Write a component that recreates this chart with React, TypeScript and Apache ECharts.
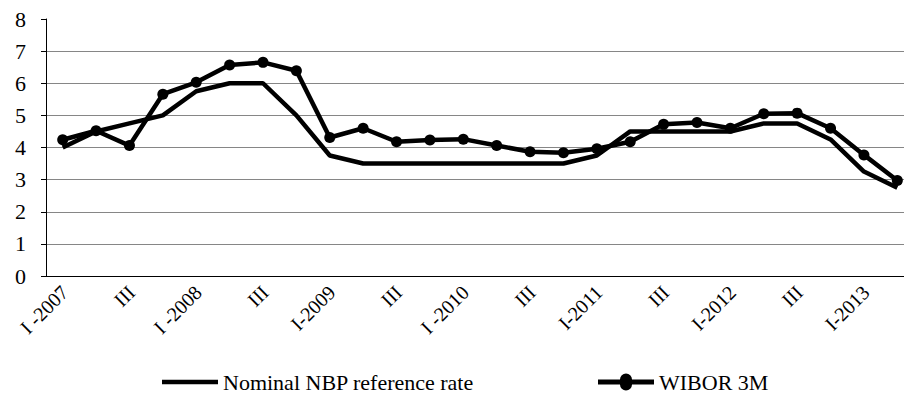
import React, { useEffect, useRef } from "react";
import * as echarts from "echarts";

const quarters = [
  "I-2007", "II-2007", "III-2007", "IV-2007",
  "I-2008", "II-2008", "III-2008", "IV-2008",
  "I-2009", "II-2009", "III-2009", "IV-2009",
  "I-2010", "II-2010", "III-2010", "IV-2010",
  "I-2011", "II-2011", "III-2011", "IV-2011",
  "I-2012", "II-2012", "III-2012", "IV-2012",
  "I-2013", "II-2013",
];

const tickLabels = [
  "I -2007", "", "III", "",
  "I -2008", "", "III", "",
  "I-2009", "", "III", "",
  "I -2010", "", "III", "",
  "I-2011", "", "III", "",
  "I-2012", "", "III", "",
  "I-2013", "",
];

const nominalNBP = [
  4.0, 4.5, 4.75, 5.0,
  5.75, 6.0, 6.0, 5.0,
  3.75, 3.5, 3.5, 3.5,
  3.5, 3.5, 3.5, 3.5,
  3.75, 4.5, 4.5, 4.5,
  4.5, 4.75, 4.75, 4.25,
  3.25, 2.75,
];

const wibor3M = [
  4.24, 4.52, 4.06, 5.66,
  6.03, 6.57, 6.65, 6.39,
  4.31, 4.6, 4.18, 4.23,
  4.26, 4.06, 3.87, 3.84,
  3.96, 4.18, 4.72, 4.78,
  4.6, 5.05, 5.07, 4.6,
  3.77, 2.97,
];

const seriesNames = ["Nominal NBP reference rate", "WIBOR 3M"];

const FONT = "Liberation Serif";

const ICON_LINE = "path://M0,3 L56,3 L56,7.5 L0,7.5 Z";
const ICON_LINE_DOT =
  "path://M0,2.5 L22,2.5 A6,6 0 0 1 34,2.5 L56,2.5 L56,7.5 L34,7.5 A6,6 0 0 1 22,7.5 L0,7.5 Z";

export default function App() {
  const ref = useRef<HTMLDivElement>(null);

  useEffect(() => {
    if (!ref.current) return;
    const chart = echarts.init(ref.current, undefined, { renderer: "svg" });
    chart.setOption({
      animation: false,
      backgroundColor: "#ffffff",
      textStyle: { fontFamily: FONT, color: "#000" },
      grid: { left: 46, top: 19, bottom: 130, right: -10, containLabel: false, outerBoundsMode: "none" },
      legend: [
        {
          data: [{ name: seriesNames[0], icon: ICON_LINE }],
          left: 157,
          top: 366,
          itemWidth: 56,
          itemHeight: 10,
          textStyle: { fontFamily: FONT, fontSize: 22, color: "#000" },
        },
        {
          data: [{ name: seriesNames[1], icon: ICON_LINE_DOT }],
          left: 593,
          top: 366,
          itemWidth: 56,
          itemHeight: 17,
          textStyle: { fontFamily: FONT, fontSize: 22, color: "#000" },
        },
      ],
      xAxis: {
        type: "category",
        data: quarters,
        axisLine: { lineStyle: { color: "#000", width: 1 } },
        axisTick: { length: 7, lineStyle: { color: "#8a8a8a", width: 1 } },
        axisLabel: { show: false },
      },
      yAxis: {
        type: "value",
        min: 0,
        max: 8,
        interval: 1,
        axisLine: { show: true, lineStyle: { color: "#000", width: 1 } },
        axisTick: { show: true, length: 5, lineStyle: { color: "#000" } },
        axisLabel: {
          margin: 20,
          fontFamily: FONT,
          fontSize: 22,
          color: "#000",
        },
        splitLine: {
          show: true,
          showMaxLine: false,
          lineStyle: { color: "#868686", width: 1 },
        },
      },
      series: [
        {
          name: seriesNames[0],
          type: "line",
          data: nominalNBP,
          showSymbol: false,
          symbol: "none",
          lineStyle: { color: "#000", width: 4.5 },
          itemStyle: { color: "#000" },
        },
        {
          name: seriesNames[1],
          type: "line",
          data: wibor3M,
          symbol: "circle",
          symbolSize: 11,
          lineStyle: { color: "#000", width: 4.5 },
          itemStyle: { color: "#000" },
        },
        {
          name: "xTickLabels",
          type: "custom",
          silent: true,
          clip: false,
          z: 10,
          data: quarters.map((_q, i) => [i, 0]),
          encode: { x: 0, y: 1 },
          renderItem: (params: any, api: any) => {
            const i = params.dataIndex;
            const label = tickLabels[i];
            if (!label) return null;
            const p = api.coord([api.value(0), 0]);
            return {
              type: "text",
              x: p[0] + 2,
              y: p[1] + 13,
              rotation: Math.PI / 4,
              style: {
                text: label,
                align: "right",
                verticalAlign: "middle",
                fontFamily: FONT,
                fontSize: 20,
                fill: "#000",
              },
            };
          },
        },
      ],
    });
    return () => chart.dispose();
  }, []);

  return (
    <div
      ref={ref}
      style={{ position: "fixed", left: 0, top: 0, width: 904, height: 406, background: "#fff" }}
    />
  );
}
